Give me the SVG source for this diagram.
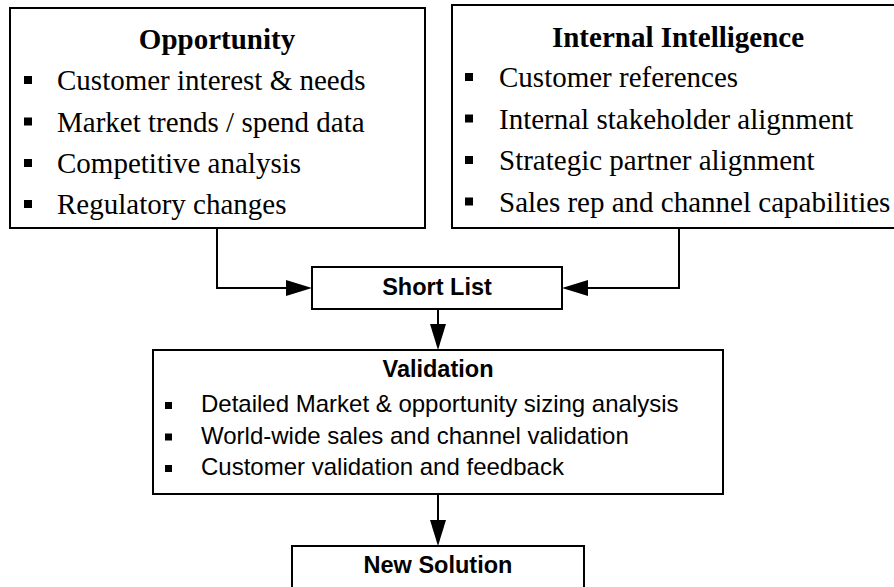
<svg xmlns="http://www.w3.org/2000/svg" width="894" height="587" viewBox="0 0 894 587">
<style>
.box{fill:#fff;stroke:#000;stroke-width:2}
.conn{fill:none;stroke:#000;stroke-width:2}
.st{font-family:"Liberation Serif","Times New Roman",serif;font-size:29px;font-weight:bold;fill:#000;text-anchor:middle}
.si{font-family:"Liberation Serif","Times New Roman",serif;font-size:29px;fill:#000}
.at{font-family:"Liberation Sans",Arial,sans-serif;font-size:23.5px;font-weight:bold;fill:#000;text-anchor:middle}
.ai{font-family:"Liberation Sans",Arial,sans-serif;font-size:24px;fill:#000}
.b{fill:#000}
</style>
<defs>
<marker id="ah" markerUnits="userSpaceOnUse" markerWidth="26" markerHeight="16" refX="0" refY="8" orient="auto" viewBox="0 0 26 16">
<path d="M0,0 L26,8 L0,16 z" fill="#000"/>
</marker>
</defs>
<rect width="894" height="587" fill="#fff"/>
<g id="connectors">
<path class="conn" d="M217 228 V288 H286" marker-end="url(#ah)"/>
<path class="conn" d="M679 228 V288 H588" marker-end="url(#ah)"/>
<path class="conn" d="M438 309 V324" marker-end="url(#ah)"/>
<path class="conn" d="M438 494 V520" marker-end="url(#ah)"/>
</g>
<g id="opportunity">
<rect class="box" x="10" y="8" width="415" height="220"/>
<text class="st" x="217" y="49">Opportunity</text>
<rect class="b" x="24" y="76" width="8" height="8"/>
<text class="si" x="57" y="90">Customer interest &amp; needs</text>
<rect class="b" x="24" y="117.5" width="8" height="8"/>
<text class="si" x="57" y="131.5">Market trends / spend data</text>
<rect class="b" x="24" y="159" width="8" height="8"/>
<text class="si" x="57" y="173">Competitive analysis</text>
<rect class="b" x="24" y="200" width="8" height="8"/>
<text class="si" x="57" y="214">Regulatory changes</text>
</g>
<g id="internal-intelligence">
<rect class="box" x="452" y="5" width="460" height="223"/>
<text class="st" x="678" y="47">Internal Intelligence</text>
<rect class="b" x="465" y="73" width="8" height="8"/>
<text class="si" x="499" y="87">Customer references</text>
<rect class="b" x="465" y="114.5" width="8" height="8"/>
<text class="si" x="499" y="128.5">Internal stakeholder alignment</text>
<rect class="b" x="465" y="156" width="8" height="8"/>
<text class="si" x="499" y="170">Strategic partner alignment</text>
<rect class="b" x="465" y="197.5" width="8" height="8"/>
<text class="si" x="499" y="211.5">Sales rep and channel capabilities</text>
</g>
<g id="short-list">
<rect class="box" x="312" y="267" width="250" height="42"/>
<text class="at" x="437" y="295">Short List</text>
</g>
<g id="validation">
<rect class="box" x="153" y="350" width="570" height="144"/>
<text class="at" x="438" y="377">Validation</text>
<rect class="b" x="165" y="402" width="7" height="7"/>
<text class="ai" x="201" y="412">Detailed Market &amp; opportunity sizing analysis</text>
<rect class="b" x="165" y="433.5" width="7" height="7"/>
<text class="ai" x="201" y="443.5">World-wide sales and channel validation</text>
<rect class="b" x="165" y="465" width="7" height="7"/>
<text class="ai" x="201" y="475">Customer validation and feedback</text>
</g>
<g id="new-solution">
<rect class="box" x="292" y="546" width="292" height="60"/>
<text class="at" x="438" y="573">New Solution</text>
</g>
</svg>
